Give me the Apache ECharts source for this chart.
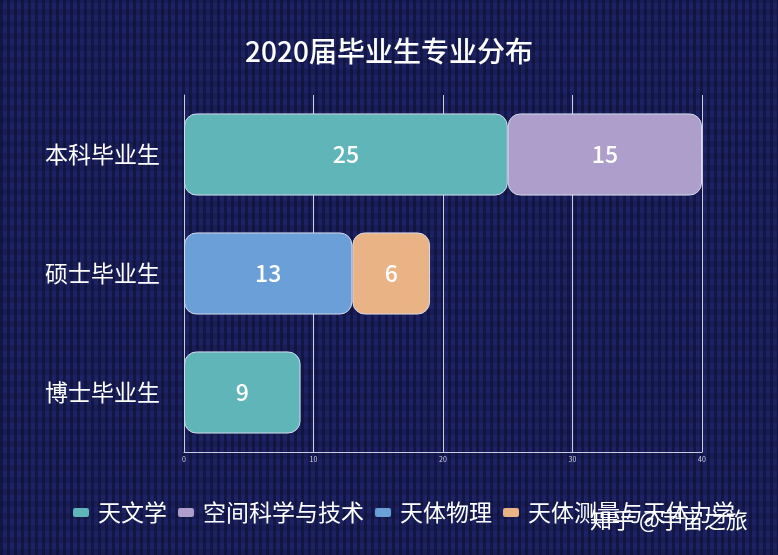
<!DOCTYPE html>
<html lang="zh">
<head>
    <meta charset="UTF-8">
    <title>2020届毕业生专业分布</title>
    <script src="https://cdn.jsdelivr.net/npm/echarts@6/dist/echarts.min.js"></script>
    <style>
        *{
            padding:0;
            margin:0;
        }
        html,body{
            width:100%;
            height:100%;
            background-color:#1c2263;
            background-image:
                repeating-linear-gradient(90deg, rgba(10,12,40,0.5) 0 3px, rgba(0,0,0,0) 3px 7px),
                repeating-linear-gradient(0deg, rgba(10,12,40,0.2) 0 6px, rgba(0,0,0,0) 6px 12px);
        }
        #main{
            width:778px;
            height:555px;
        }
    </style>
</head>
<body>
<div id="main"></div>
<script>
    var categories = ['本科毕业生', '硕士毕业生', '博士毕业生'];
    var seriesNames = ['天文学', '空间科学与技术', '天体物理', '天体测量与天体力学'];
    var astronomy = [25, null, 9];
    var spaceTech = [15, null, null];
    var astrophysics = [null, 13, null];
    var astrometry = [null, 6, null];
    var colors = ['#5fb5b8', '#ad9ecb', '#6a9fd8', '#e9b386'];
    var xTicks = [0, 10, 20, 30, 40];

    var myChart = echarts.init(document.getElementById('main'));
    var font = '"Noto Sans CJK SC", "Noto Sans", sans-serif';

    function barSeries(idx, data) {
        return {
            name: seriesNames[idx],
            type: 'bar',
            stack: 'total',
            barWidth: '69%',
            data: data,
            itemStyle: {
                color: colors[idx],
                borderColor: '#d8dcef',
                borderWidth: 1,
                borderRadius: 12
            },
            label: {
                show: true,
                position: 'inside',
                color: '#ffffff',
                fontSize: 23,
                fontWeight: 500,
                fontFamily: font
            }
        };
    }

    var option = {
        backgroundColor: 'transparent',
        textStyle: {fontFamily: font},
        title: {
            text: '2020届毕业生专业分布',
            left: 'center',
            top: 32,
            textStyle: {
                color: '#ffffff',
                fontSize: 28,
                fontWeight: 500,
                fontFamily: font
            }
        },
        legend: {
            data: seriesNames,
            left: 68,
            top: 496,
            icon: 'roundRect',
            itemWidth: 16,
            itemHeight: 9,
            itemGap: 11,
            itemStyle: {borderWidth: 0},
            textStyle: {
                color: '#ffffff',
                fontSize: 23,
                padding: [0, 0, 0, 4],
                fontFamily: font
            }
        },
        grid: {
            left: 184,
            right: 76,
            top: 95,
            bottom: 103,
            containLabel: false
        },
        xAxis: {
            type: 'value',
            min: xTicks[0],
            max: xTicks[xTicks.length - 1],
            interval: 10,
            axisLine: {show: true, lineStyle: {color: '#c9cde3', width: 1}},
            axisTick: {show: false},
            axisLabel: {color: '#d0d3e6', fontSize: 7, margin: 4},
            splitLine: {show: true, lineStyle: {color: '#c9cde3', width: 1}}
        },
        yAxis: {
            type: 'category',
            inverse: true,
            data: categories,
            axisLine: {show: true, lineStyle: {color: '#c9cde3', width: 1}},
            axisTick: {show: false},
            axisLabel: {color: '#ffffff', fontSize: 23, margin: 24, fontFamily: font}
        },
        graphic: [{
            type: 'text',
            left: 590,
            top: 509,
            style: {
                text: '知乎 @宇宙之旅',
                fill: '#ffffff',
                fontSize: 22,
                fontFamily: font
            }
        }],
        series: [
            barSeries(0, astronomy),
            barSeries(1, spaceTech),
            barSeries(2, astrophysics),
            barSeries(3, astrometry)
        ]
    };
    myChart.setOption(option);
</script>
</body>
</html>
